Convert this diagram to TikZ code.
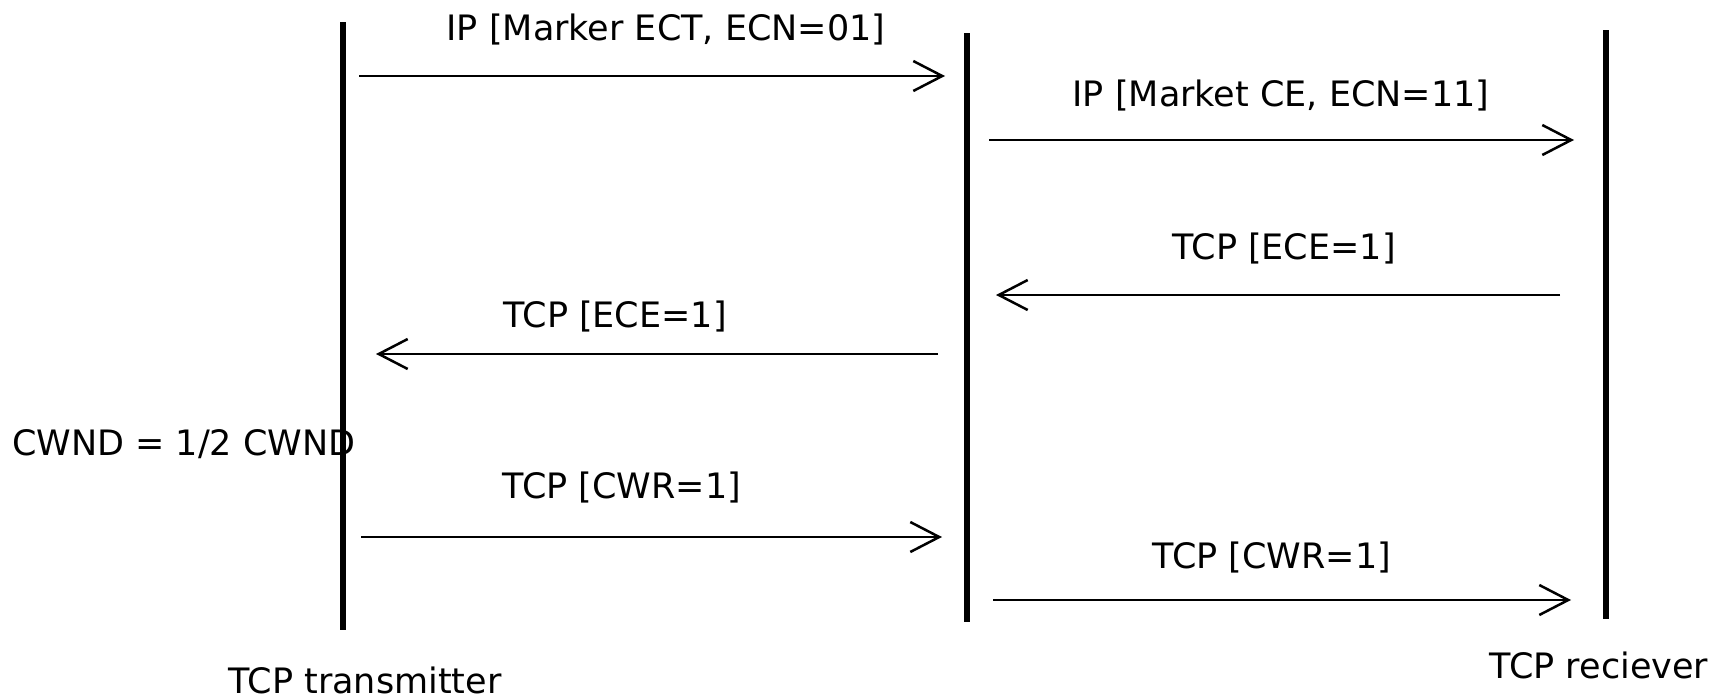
\documentclass[tikz,border=0pt]{standalone}
\usepackage{fontspec}
\setmainfont{DejaVu Sans}
\usetikzlibrary{arrows.meta}
\begin{document}
\begin{tikzpicture}[x=1pt,y=-1pt,
  life/.style={line width=5.5pt},
  msg/.style={line width=2.5pt,-{Straight Barb[length=29pt,width=30pt,line width=2.5pt]}},
  lbl/.style={anchor=base,inner sep=0pt,font=\fontsize{35}{42}\selectfont}]
\useasboundingbox (0,0) rectangle (1717,699);
% lifelines
\coordinate (Lt) at (343,22);  \coordinate (Lb) at (343,630);
\coordinate (Mt) at (967,33);  \coordinate (Mb) at (967,622);
\coordinate (Rt) at (1606,30); \coordinate (Rb) at (1606,619);
\draw[life] (Lt) -- (Lb);
\draw[life] (Mt) -- (Mb);
\draw[life] (Rt) -- (Rb);
% message endpoints
\coordinate (a1s) at (359,76);   \coordinate (a1e) at (945,76);
\coordinate (a2s) at (989,140);  \coordinate (a2e) at (1574,140);
\coordinate (a3s) at (1560,295); \coordinate (a3e) at (996,295);
\coordinate (a4s) at (938,354);  \coordinate (a4e) at (376,354);
\coordinate (a5s) at (361,537);  \coordinate (a5e) at (942,537);
\coordinate (a6s) at (993,600);  \coordinate (a6e) at (1571,600);
\draw[msg] (a1s) -- (a1e);
\draw[msg] (a2s) -- (a2e);
\draw[msg] (a3s) -- (a3e);
\draw[msg] (a4s) -- (a4e);
\draw[msg] (a5s) -- (a5e);
\draw[msg] (a6s) -- (a6e);
% labels
\node[lbl] (l1) at (666,40) {IP [Marker ECT, ECN=01]};
\node[lbl] (l2) at (1281,106) {IP [Market CE, ECN=11]};
\node[lbl] (l3) at (1284,259) {TCP [ECE=1]};
\node[lbl] (l4) at (615,327) {TCP [ECE=1]};
\node[lbl,anchor=base west] (cw) at (12,455) {CWND = 1/2 CWND};
\node[lbl] (l5) at (622,498) {TCP [CWR=1]};
\node[lbl] (l6) at (1272,568) {TCP [CWR=1]};
\node[lbl] (tx) at (365,693) {TCP transmitter};
\node[lbl] (rx) at (1599,678) {TCP reciever};
\end{tikzpicture}
\end{document}
